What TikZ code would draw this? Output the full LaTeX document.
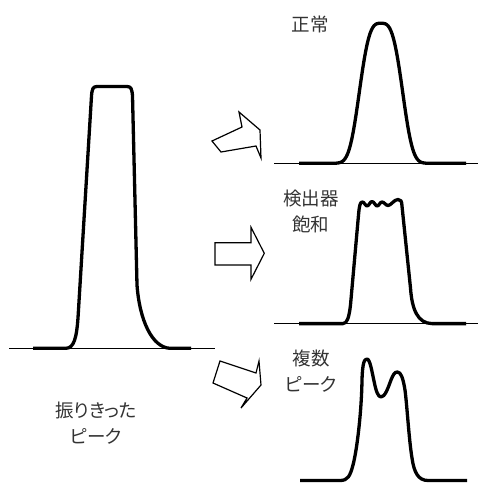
\documentclass[tikz,border=0pt]{standalone}
\usepackage{fontspec}
\newfontfamily\jpfont[RawFeature=+palt]{Noto Sans CJK JP}
\tikzset{
  peak/.style={line width=3.3pt, line join=round},
  axisline/.style={line width=0.9pt},
  blockarrow/.style={draw, line width=1.2pt, fill=white, line join=miter},
  caption/.style={font=\jpfont\fontsize{18.5}{26}\selectfont, align=center, text=black!80, inner sep=0pt}
}

\begin{document}
\begin{tikzpicture}[x=1pt, y=-1pt]
  \useasboundingbox (0,0) rectangle (478,483);

  % clipped peak on the left
  \draw[axisline] (9,348.3) -- (215,348.3);
  \draw[peak] (33,348.3) -- (66,348.3) .. controls (74,348) and (76.5,338) .. (78,318)
    -- (91.5,96) .. controls (92,89) and (93,86.5) .. (97,86.5) -- (127,86.5)
    .. controls (131,86.5) and (132,89) .. (132.5,96) -- (137,285)
    .. controls (139.5,320) and (152,347.5) .. (170,348.3) -- (191,348.3);
  \node[caption] (lblclipped) at (96,423.5) {振りきった\\ピーク};

  % arrows
  \draw[blockarrow] (212,141) -- (242,127) -- (239,112) -- (260,130) -- (261,158)
    -- (256,146) -- (221,152) -- cycle;
  \draw[blockarrow] (215,242.7) -- (251,242.7) -- (251,227.3) -- (264.3,253.3)
    -- (251,279.3) -- (251,265) -- (215,265) -- cycle;
  \draw[blockarrow] (220,361) -- (256,373) -- (259,361) -- (261,385) -- (241,408)
    -- (247,398) -- (213,383) -- cycle;

  % normal peak
  \draw[axisline] (274,163.3) -- (478,163.3);
  \draw[peak] plot[domain=-82:85, samples=121]
    ({381+\x}, {163.3-140*exp(-pow(abs(\x)/24.5,3.2))});
  \node[caption] (lblnormal) at (310,24) {正常};

  % detector saturation
  \draw[axisline] (274,323.6) -- (478,323.6);
  \draw[peak] (299,323.6) -- (343,323.6) .. controls (347,323.4) and (349,318) .. (350.5,305)
    -- (358.5,215) .. controls (359.3,206) and (360,202.5) .. (362,202)
    .. controls (364,201.5) and (365.5,206) .. (367,206)
    .. controls (369,206) and (370,201.5) .. (372,201.5)
    .. controls (374,201.5) and (375.5,206) .. (377,206)
    .. controls (379,206) and (380,202) .. (382,202)
    .. controls (384,202) and (386,205.5) .. (388,205.5)
    .. controls (391,205.5) and (394,199.5) .. (398,199.5)
    .. controls (401,199.5) and (401.7,201) .. (402,206)
    -- (410.5,288) .. controls (412,310) and (418,323.4) .. (432,323.6) -- (466,323.6);
  \node[caption] (lblsat) at (311,211) {検出器\\飽和};

  % multiple peaks
  \draw[peak] (300,480.5) -- (340,480.5) .. controls (348,480.5) and (350,476) .. (353,465)
    .. controls (357,450) and (361.5,412) .. (362,380)
    .. controls (362.5,364) and (364,359) .. (367,359)
    .. controls (370,359) and (372,372) .. (374,381)
    .. controls (376,391) and (378,397) .. (381,397)
    .. controls (385,397) and (388,388) .. (391,380)
    .. controls (393,375) and (394.5,372) .. (397.3,372)
    .. controls (401,372) and (403,378) .. (405,390)
    .. controls (407,405) and (409,440) .. (412,458)
    .. controls (414,472) and (418,480.5) .. (428,480.5) -- (467,480.5);
  \node[caption] (lblmulti) at (311,371.5) {複数\\ピーク};
\end{tikzpicture}
\end{document}
